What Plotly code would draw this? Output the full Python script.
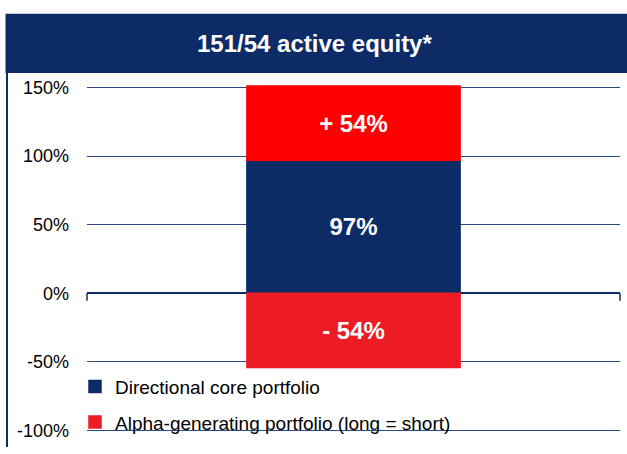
import plotly.graph_objects as go

W, H = 627, 454
title_text = "151/54 active equity*"
series_names = ["Directional core portfolio", "Alpha-generating portfolio (long = short)"]
core_value = 97
alpha_long = 54
alpha_short = -54
tick_vals = [-100, -50, 0, 50, 100, 150]
tick_text = ["-100%", "-50%", "0%", "50%", "100%", "150%"]

NAVY = "#0D2B66"
RED_TOP = "#FF0000"
RED_BOT = "#ED1C24"
FONT = "Liberation Sans, Arial, sans-serif"

def px_x(p):
    return p / W

def px_y(p):
    return 1 - p / H

fig = go.Figure()
lbl_font = dict(size=24, color="white", family=FONT, weight="bold")
fig.add_trace(go.Bar(x=[0], y=[core_value], base=[0], name=series_names[0],
                     marker=dict(color=NAVY, line=dict(width=1.5, color=NAVY)),
                     text=[f"{core_value}%"], textposition="inside", insidetextanchor="middle",
                     textfont=lbl_font, width=0.4, legendrank=1, legendgroup="a"))
fig.add_trace(go.Bar(x=[0], y=[alpha_long], base=[core_value], name=series_names[1],
                     marker=dict(color=RED_TOP, line=dict(width=1.5, color=RED_TOP)), showlegend=False,
                     text=[f"+ {alpha_long}%"], textposition="inside", insidetextanchor="middle",
                     textfont=lbl_font, width=0.4, legendgroup="b"))
fig.add_trace(go.Bar(x=[0], y=[alpha_short], base=[0], name=series_names[1],
                     marker=dict(color=RED_BOT, line=dict(width=1.5, color=RED_BOT)),
                     text=[f"- {abs(alpha_short)}%"], textposition="inside", insidetextanchor="middle",
                     textfont=lbl_font, width=0.4, legendrank=2, legendgroup="b"))

y_top_px, y_bot_px = 83, 437  # pixel positions of 150 and -100
ppu = (y_bot_px - y_top_px) / 250.0
rng = [-102, 152]
dom_top = y_top_px - (rng[1] - 150) * ppu
dom_bot = y_bot_px + (-100 - rng[0]) * ppu

fig.update_layout(
    width=W, height=H,
    margin=dict(l=0, r=0, t=0, b=0),
    paper_bgcolor="white", plot_bgcolor="white",
    barmode="overlay",
    showlegend=True,
    hovermode=False,
    font=dict(family=FONT, color="black"),
    xaxis=dict(domain=[px_x(87), px_x(620)], range=[-0.5, 0.5], showticklabels=False,
               showgrid=False, zeroline=False, showline=False, fixedrange=True),
    yaxis=dict(domain=[px_y(dom_bot), px_y(dom_top)], range=rng, tickvals=tick_vals,
               ticktext=tick_text, showgrid=True, gridcolor="#2A4A85", gridwidth=1,
               zeroline=True, zerolinecolor=NAVY, zerolinewidth=1.5,
               showline=False, ticks="", ticklabelstandoff=17,
               tickfont=dict(size=18, color="black", family=FONT), fixedrange=True),
    legend=dict(x=px_x(75), y=px_y(372), xanchor="left", yanchor="top",
                bgcolor="rgba(0,0,0,0)", font=dict(size=19, color="black", family=FONT),
                traceorder="grouped", itemwidth=30, tracegroupgap=8),
    shapes=[
        dict(type="rect", xref="paper", yref="paper", x0=px_x(5.5), x1=1.0,
             y0=px_y(68), y1=px_y(7), fillcolor=NAVY, line=dict(width=0), layer="below"),
        dict(type="line", xref="paper", yref="paper", x0=px_x(7), x1=px_x(7),
             y0=px_y(67), y1=0, line=dict(color=NAVY, width=2)),
        dict(type="line", xref="x domain", yref="y", x0=0, x1=0, y0=0, y1=-5.5,
             line=dict(color=NAVY, width=1.5)),
        dict(type="line", xref="x domain", yref="y", x0=1, x1=1, y0=0, y1=-5.5,
             line=dict(color=NAVY, width=1.5)),
    ],
    annotations=[
        dict(text=title_text, xref="paper", yref="paper", x=px_x(314), y=px_y(38),
             xanchor="center", yanchor="middle", showarrow=False,
             font=dict(size=24, color="white", family=FONT, weight="bold")),
    ],
)

fig.write_html("out.html", config={"displayModeBar": False},
               post_script="document.body.style.margin='0';document.body.style.overflow='hidden';")
